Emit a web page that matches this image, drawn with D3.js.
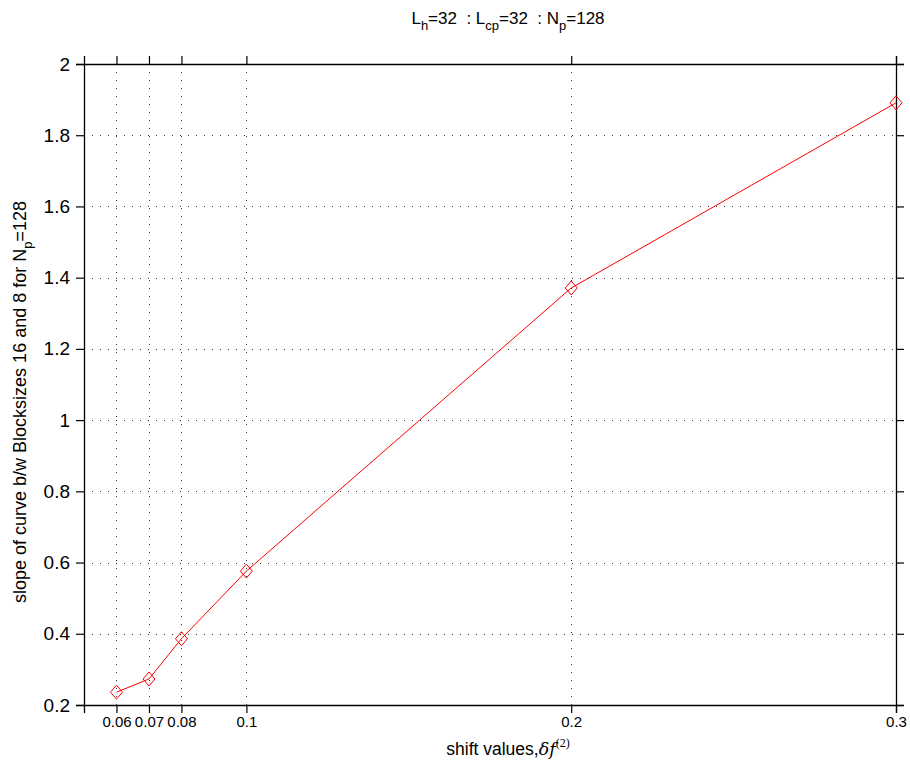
<!DOCTYPE html>
<html><head><meta charset="utf-8">
<script src="https://cdn.jsdelivr.net/npm/d3@7"></script>
<style>body{margin:0;background:#fff;} text{font-family:"Liberation Sans",Arial,sans-serif;white-space:pre;}</style>
</head><body>
<svg id="c" width="910" height="765"></svg>
<script>
const xValues = [0.06, 0.07, 0.08, 0.1, 0.2, 0.3];
const slopeValues = [0.236, 0.273, 0.386, 0.576, 1.371, 1.891];
const xTicks = [0.06, 0.07, 0.08, 0.1, 0.2, 0.3];
const xTickLabels = ["0.06", "0.07", "0.08", "0.1", "0.2", "0.3"];
const yTicks = [0.2, 0.4, 0.6, 0.8, 1.0, 1.2, 1.4, 1.6, 1.8, 2.0];
const yTickLabels = ["0.2", "0.4", "0.6", "0.8", "1", "1.2", "1.4", "1.6", "1.8", "2"];

const svg = d3.select("#c");
const L = 84, R = 896, T = 64, B = 705;
const x = d3.scaleLinear().domain([0.05, 0.3]).range([L, R]);
const y = d3.scaleLinear().domain([0.2, 2]).range([B, T]);

// grid
const g = svg.append("g");
g.selectAll(".vg").data(xTicks).join("line")
  .attr("x1", d => Math.round(x(d)) + 0.5).attr("x2", d => Math.round(x(d)) + 0.5)
  .attr("y1", T).attr("y2", B)
  .attr("stroke", "#333").attr("stroke-width", 1).attr("stroke-dasharray", "1,7");
g.selectAll(".hg").data(yTicks).join("line")
  .attr("y1", d => Math.round(y(d)) + 0.5).attr("y2", d => Math.round(y(d)) + 0.5)
  .attr("x1", L).attr("x2", R)
  .attr("stroke", "#333").attr("stroke-width", 1).attr("stroke-dasharray", "1,7");

// axes
const fmtX = d => xTickLabels[xTicks.indexOf(d)];
const fmtY = d => yTickLabels[yTicks.findIndex(v => Math.abs(v - d) < 1e-9)];
const ax = svg.append("g").attr("transform", `translate(0,${B})`)
  .call(d3.axisBottom(x).tickValues(xTicks).tickFormat(fmtX).tickSize(8).tickPadding(3));
const axT = svg.append("g").attr("transform", `translate(0,${T})`)
  .call(d3.axisTop(x).tickValues(xTicks).tickFormat("").tickSize(8));
const ay = svg.append("g").attr("transform", `translate(${L},0)`)
  .call(d3.axisLeft(y).tickValues(yTicks).tickFormat(fmtY).tickSize(8).tickPadding(6));
const ayR = svg.append("g").attr("transform", `translate(${R},0)`)
  .call(d3.axisRight(y).tickValues(yTicks).tickFormat("").tickSize(8));
[ax, axT, ay, ayR].forEach(a => {
  a.select(".domain").attr("stroke", "#000").attr("stroke-width", 1.3);
  a.selectAll(".tick line").attr("stroke", "#000").attr("stroke-width", 1.2);
  a.selectAll("text").attr("fill", "#000").style("font-family", '"Liberation Sans",Arial,sans-serif');
});
ax.selectAll("text").style("font-size", "15px");
ay.selectAll("text").style("font-size", "19px");

// line
const pts = xValues.map((v, i) => [v, slopeValues[i]]);
svg.append("path").datum(pts)
  .attr("d", d3.line().x(d => x(d[0])).y(d => y(d[1])))
  .attr("fill", "none").attr("stroke", "#ff0000").attr("stroke-width", 1);
svg.selectAll(".mk").data(pts).join("path")
  .attr("transform", d => `translate(${x(d[0])},${y(d[1])})`)
  .attr("d", "M0,-7L6,0L0,7L-6,0Z")
  .attr("fill", "none").attr("stroke", "#ff0000").attr("stroke-width", 1);

// title
const t = svg.append("text").attr("x", 508).attr("y", 24).attr("text-anchor", "middle")
  .style("font-size", "17px").attr("fill", "#000");
t.append("tspan").text("L");
t.append("tspan").attr("dy", 6).style("font-size", "13px").text("h");
t.append("tspan").attr("dy", -6).text("=32  : L");
t.append("tspan").attr("dy", 6).style("font-size", "13px").text("cp");
t.append("tspan").attr("dy", -6).text("=32  : N");
t.append("tspan").attr("dy", 6).style("font-size", "13px").text("p");
t.append("tspan").attr("dy", -6).text("=128");

// x label
const xl = svg.append("text").attr("x", 508).attr("y", 755).attr("text-anchor", "middle")
  .style("font-size", "17.5px").attr("fill", "#000");
xl.append("tspan").text("shift values,");
xl.append("tspan").style("font-family", '"DejaVu Serif","Liberation Serif",serif').style("font-style", "italic").text("δf");
xl.append("tspan").attr("dy", -8).style("font-size", "12px").style("font-family", '"Liberation Serif",serif').text("(2)");

// y label
const yl = svg.append("text").attr("transform", `translate(26,402) rotate(-90)`).attr("text-anchor", "middle")
  .style("font-size", "18px").attr("fill", "#000");
yl.append("tspan").text("slope of curve b/w Blocksizes 16 and 8 for N");
yl.append("tspan").attr("dy", 6).style("font-size", "13px").text("p");
yl.append("tspan").attr("dy", -6).text("=128");
</script>
</body></html>
